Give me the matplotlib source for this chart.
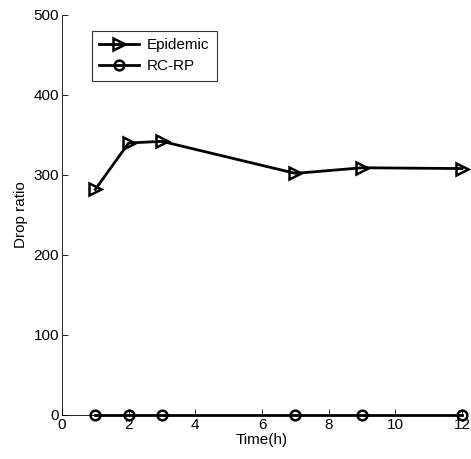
import matplotlib
matplotlib.use("Agg")
import matplotlib.pyplot as plt

plt.rcParams['font.family'] = ['Liberation Sans', 'DejaVu Sans']

hours = [1, 2, 3, 7, 9, 12]
epidemic = [282, 340, 342, 302, 309, 308]
rcrp = [0, 0, 0, 0, 0, 0]

fig = plt.figure(figsize=(4.71, 4.59), dpi=100)
ax = fig.add_axes([0.1316, 0.0959, 0.8494, 0.8715])

ax.plot(hours, epidemic, color='k', lw=2, marker='>', markersize=9,
        markerfacecolor='none', markeredgewidth=1.8, label='Epidemic',
        clip_on=False, zorder=3)
ax.plot(hours, rcrp, color='k', lw=2, marker='o', markersize=7,
        markerfacecolor='none', markeredgewidth=1.8, label='RC-RP',
        clip_on=False, zorder=3)

ax.set_xlim(0, 12)
ax.set_ylim(0, 500)
ax.set_xticks(range(0, 13, 2))
ax.set_yticks(range(0, 501, 100))
ax.set_xlabel('Time(h)', fontsize=11, labelpad=1)
ax.set_ylabel('Drop ratio', fontsize=11, labelpad=4)
ax.tick_params(direction='in', labelsize=11, width=0.6, length=4, pad=2)
for s in ['top', 'right']:
    ax.spines[s].set_visible(False)
for s in ['left', 'bottom']:
    ax.spines[s].set_linewidth(0.6)

leg = ax.legend(loc='upper left', bbox_to_anchor=(0.055, 0.98), fontsize=11,
                frameon=True, fancybox=False, edgecolor='k', handlelength=2.6,
                handletextpad=0.5, borderpad=0.5, labelspacing=0.45,
                numpoints=1)
leg.get_frame().set_linewidth(0.8)

fig.savefig('out.png', dpi=100)
